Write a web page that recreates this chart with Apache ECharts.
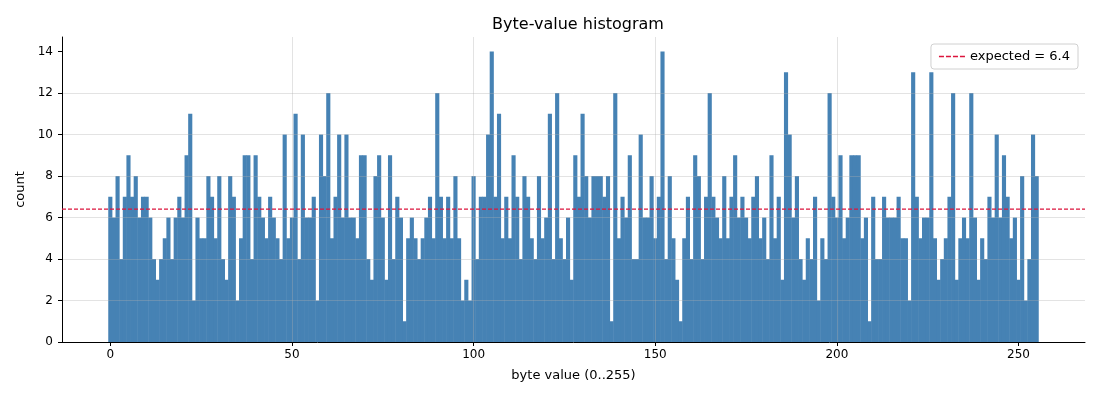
<!DOCTYPE html>
<html>
<head>
<meta charset="utf-8">
<script src="https://cdn.jsdelivr.net/npm/echarts@6/dist/echarts.min.js"></script>
<style>
  html, body { margin: 0; padding: 0; background: #fff; }
  #chart { width: 1100px; height: 400px; }
</style>
</head>
<body>
<div id="chart"></div>
<script>
// counts per byte value
var counts = [
  7,6,8,4,7,9,7,8,6,7,7,6,4,3,4,5,6,4,6,7,6,9,11,2,6,5,5,8,7,5,8,4,
  3,8,7,2,5,9,9,4,9,7,6,5,7,6,5,4,10,5,6,11,4,10,6,6,7,2,10,8,12,5,7,10,
  6,10,6,6,5,9,9,4,3,8,9,6,3,9,4,7,6,1,5,6,5,4,5,6,7,5,12,7,5,7,5,8,
  5,2,3,2,8,4,7,7,10,14,7,11,5,7,5,9,7,4,8,7,5,4,8,5,6,11,4,12,5,4,6,3,
  9,7,11,8,6,8,8,8,7,8,1,12,5,7,6,9,4,4,10,6,6,8,5,7,14,4,8,5,3,1,5,7,
  4,9,8,4,7,12,7,6,5,8,5,7,9,6,7,6,5,7,8,5,6,4,9,5,7,3,13,10,6,8,4,3,
  5,4,7,2,5,4,12,7,6,9,5,6,9,9,9,5,6,1,7,4,4,7,6,6,6,7,5,5,2,13,7,5,
  6,6,13,5,3,4,5,7,12,3,5,6,5,12,6,3,5,4,7,6,10,6,9,7,5,6,3,8,2,4,10,8
];
var expected = 6.4;
var xTicks = [0, 50, 100, 150, 200, 250];
var yTicks = [0, 2, 4, 6, 8, 10, 12, 14];

var barData = counts.map(function(c, i){ return [i, c]; });

var font = 'DejaVu Sans';
var gridColor = 'rgba(176,176,176,0.35)';
var red = '#dc143c';
var blue = '#4682b4';
// four short dashes, like the legend handle of a dashed line
var dashIcon = 'path://M0,0h5v1.5h-5zM7,0h5v1.5h-5zM14,0h5v1.5h-5zM21,0h5v1.5h-5z';

var xMin = -13.3, xMax = 268.3;
var plotLeft = 62, plotRight = 15;
// one byte value in pixels, plus a hair so neighbours overlap (no seams)
var unitPx = (1100 - plotLeft - plotRight) / (xMax - xMin);

// horizontal reference line across the whole axis range
var expectedLine = [[xMin, expected], [xMax, expected]];

var chart = echarts.init(document.getElementById('chart'));
var option = {
    animation: false,
    textStyle: { fontFamily: font },
    title: {
        text: 'Byte-value histogram',
        left: 573, top: 12, textAlign: 'center',
        textStyle: { fontFamily: font, fontSize: 16, fontWeight: 'normal', color: '#000' }
    },
    legend: {
        right: 22, top: 44,
        orient: 'vertical',
        data: [{ name: 'expected = 6.4', icon: dashIcon }],
        itemWidth: 26, itemHeight: 1.5,
        padding: [6, 8, 6, 8],
        borderColor: '#d0d0d0', borderWidth: 1, borderRadius: 3,
        backgroundColor: 'rgba(255,255,255,0.8)',
        itemStyle: { color: red },
        textStyle: { fontFamily: font, fontSize: 13, color: '#000' }
    },
    grid: { left: plotLeft, right: plotRight, top: 37, bottom: 58, containLabel: false },
    xAxis: {
        type: 'value',
        min: xMin, max: xMax,
        z: 3,
        name: 'byte value (0..255)',
        nameLocation: 'middle', nameGap: 27,
        nameTextStyle: { fontFamily: font, fontSize: 13, color: '#000' },
        axisLine: { show: true, onZero: false, lineStyle: { color: '#000', width: 1 } },
        axisTick: { show: true, length: 4, customValues: xTicks, lineStyle: { color: '#000' } },
        axisLabel: { customValues: xTicks, margin: 7, fontFamily: font, fontSize: 12, color: '#000' },
        splitLine: { show: true, showMinLine: false, showMaxLine: false, lineStyle: { color: gridColor, width: 1 } }
    },
    yAxis: {
        type: 'value',
        min: 0, max: 14.7, interval: 2,
        z: 3,
        name: 'count',
        nameLocation: 'middle', nameGap: 33, nameRotate: 90,
        nameTextStyle: { fontFamily: font, fontSize: 13, color: '#000' },
        axisLine: { show: true, onZero: false, lineStyle: { color: '#000', width: 1 } },
        axisTick: { show: true, length: 4, customValues: yTicks, lineStyle: { color: '#000' } },
        axisLabel: { customValues: yTicks, margin: 9, fontFamily: font, fontSize: 12, color: '#000' },
        splitLine: { show: true, showMinLine: false, showMaxLine: false, lineStyle: { color: gridColor, width: 1 } }
    },
    series: [
        {
            name: 'count',
            type: 'bar',
            data: barData,
            barWidth: unitPx + 0.5,
            itemStyle: { color: blue },
            z: 2
        },
        {
            name: 'expected = 6.4',
            type: 'line',
            data: expectedLine,
            symbol: 'none',
            silent: true,
            color: red,
            itemStyle: { color: red },
            lineStyle: { color: red, type: [4, 2], width: 1.2 },
            z: 4
        }
    ]
};
chart.setOption(option);
</script>
</body>
</html>
